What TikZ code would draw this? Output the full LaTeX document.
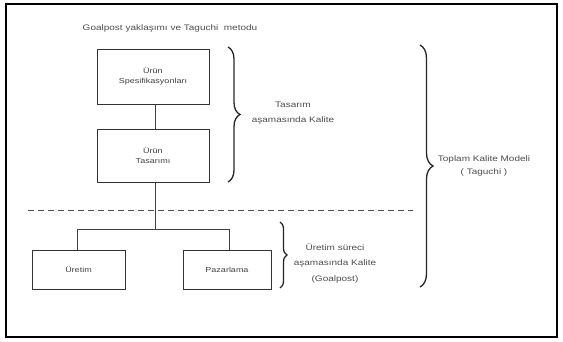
\documentclass[tikz,border=0pt]{standalone}
\usepackage{fontspec}
\setmainfont{Liberation Sans}
\newfontfamily\widefont[FakeStretch=1.25]{Liberation Sans}
\usetikzlibrary{decorations.pathreplacing}
\begin{document}
\begin{tikzpicture}[x=1pt,y=-1pt,
  box/.style={draw=black!80,line width=1pt,inner sep=1pt,align=center,font=\widefont\fontsize{7.2}{10}\selectfont,text=black!75},
  conn/.style={draw=black!75,line width=1pt},
  lbl/.style={align=center,font=\widefont\fontsize{8}{15}\selectfont,text=black!70},
  brc/.style={draw=black!85,line width=1.3pt,decorate,decoration={brace,amplitude=#1}}]
\useasboundingbox (0,0) rectangle (563,341);
\draw[line width=2pt] (6,4) rectangle (557,337);
\node[lbl] (title) at (170,28) {Goalpost yaklaşımı ve Taguchi\ \ metodu};
\node[box,minimum width=112pt,minimum height=55pt] (spec) at (153,76.5) {Ürün\\Spesifikasyonları};
\node[box,minimum width=112pt,minimum height=53pt] (tas) at (153,155.5) {Ürün\\Tasarımı};
\node[box,minimum width=93pt,minimum height=39pt] (ur) at (78.5,269.5) {Üretim};
\node[box,minimum width=88pt,minimum height=39pt] (paz) at (227,269.5) {Pazarlama};
\coordinate (j) at (155,229);
\coordinate (dl) at (28,210);
\coordinate (dr) at (413,210);
\draw[conn] (spec.south -| j) -- (tas.north -| j);
\draw[conn] (tas.south -| j) -- (j);
\draw[conn] (j) -| (ur.north -| 77,0);
\draw[conn] (j) -| (paz.north -| 229,0);
\draw[black!70,line width=1pt,dash pattern=on 6pt off 4pt] (dl) -- (dr);
% braces
\coordinate (b1t) at (228,47);
\coordinate (b1b) at (228,182);
\draw[brc=12pt] (b1t) -- (b1b);
\node[lbl] (l1) at (293,113) {Tasarım\\aşamasında Kalite};
\coordinate (b2t) at (280,222);
\coordinate (b2b) at (280,288);
\draw[brc=7pt] (b2t) -- (b2b);
\node[lbl,font=\widefont\fontsize{8}{15.5}\selectfont] (l2) at (335,263) {Üretim süreci\\aşamasında Kalite\\(Goalpost)};
\coordinate (b3t) at (420,45);
\coordinate (b3b) at (420,287);
\draw[brc=13pt] (b3t) -- (b3b);
\node[lbl,font=\widefont\fontsize{8}{13}\selectfont] (l3) at (484,166) {Toplam Kalite Modeli\\( Taguchi )};
\end{tikzpicture}
\end{document}
